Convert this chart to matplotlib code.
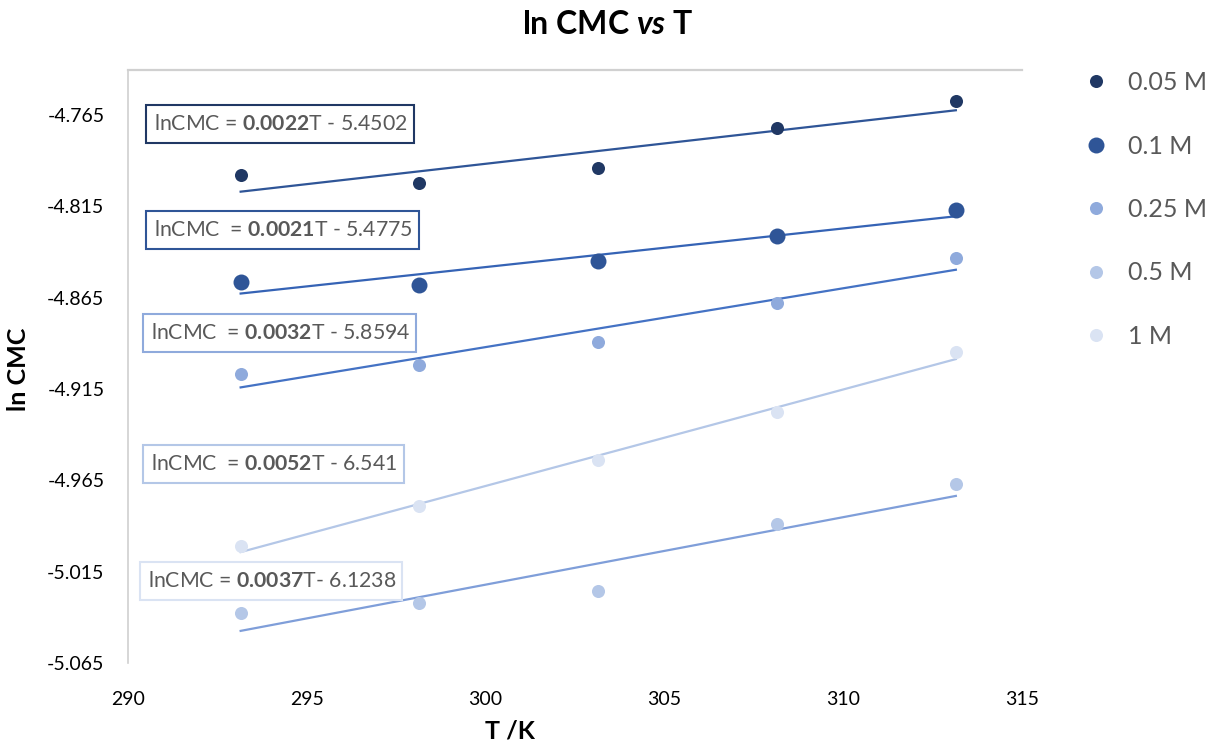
import numpy as np
import matplotlib
matplotlib.use("Agg")
import matplotlib.pyplot as plt
from matplotlib.patches import Rectangle

plt.rcParams['font.family'] = ['Lato', 'DejaVu Sans']
plt.rcParams['mathtext.fontset'] = 'custom'
plt.rcParams['mathtext.rm'] = 'Lato'
plt.rcParams['mathtext.bf'] = 'Lato:bold'
plt.rcParams['mathtext.it'] = 'Lato:bold:italic'

# ---- data ----
temperature = [293.15, 298.15, 303.15, 308.15, 313.15]
labels = ["0.05 M", "0.1 M", "0.25 M", "0.5 M", "1 M"]
ln_cmc_005 = [-4.7979, -4.8023, -4.7940, -4.7721, -4.7573]
ln_cmc_01 = [-4.8565, -4.8582, -4.8450, -4.8313, -4.8171]
ln_cmc_025 = [-4.9069, -4.9020, -4.8894, -4.8680, -4.8434]
ln_cmc_05 = [-5.0379, -5.0324, -5.0258, -4.9891, -4.9672]
ln_cmc_1 = [-5.0012, -4.9793, -4.9541, -4.9278, -4.8949]
equations = [
    ("lnCMC = ", "0.0022", "T - 5.4502"),
    ("lnCMC  = ", "0.0021", "T - 5.4775"),
    ("lnCMC  = ", "0.0032", "T - 5.8594"),
    ("lnCMC  = ", "0.0052", "T - 6.541"),
    ("lnCMC = ", "0.0037", "T- 6.1238"),
]
y_ticks = [-4.765, -4.815, -4.865, -4.915, -4.965, -5.015, -5.065]
x_ticks = [290, 295, 300, 305, 310, 315]

series = [ln_cmc_005, ln_cmc_01, ln_cmc_025, ln_cmc_05, ln_cmc_1]
marker_colors = ["#203864", "#2F5597", "#8FAADC", "#B4C7E7", "#DAE3F3"]
line_colors = ["#2F5597", "#3563B5", "#4472C4", "#7F9ED9", "#B4C7E7"]
marker_sizes = [9.4, 11.5, 9.4, 9.4, 9.4]

W, H = 1218, 745
fig = plt.figure(figsize=(W / 100, H / 100), dpi=100)
ax = fig.add_axes([128 / W, 1 - 663 / H, (1022 - 128) / W, (663 - 70) / H])

T = np.array(temperature)
handles = []
for vals, mc, lc, ms, lab in zip(series, marker_colors, line_colors, marker_sizes, labels):
    v = np.array(vals)
    k, b = np.polyfit(T, v, 1)
    ax.plot([T[0], T[-1]], [k * T[0] + b, k * T[-1] + b], color=lc, lw=1.6, zorder=2)
    h, = ax.plot(T, v, 'o', color=mc, ms=ms, mec='none', zorder=3, label=lab)
    handles.append(h)

ax.set_xlim(290, 315)
ax.set_ylim(-5.065, -4.7404)
ax.set_xticks(x_ticks)
ax.set_yticks(y_ticks)
ax.set_yticklabels([f"{t:.3f}" for t in y_ticks])
ax.tick_params(axis='both', length=0, labelsize=14, colors='black')
ax.tick_params(axis='y', pad=17)
ax.tick_params(axis='x', pad=20)
for s in ['right', 'bottom']:
    ax.spines[s].set_visible(False)
ax.spines['left'].set_color('#D0D0D0')
ax.spines['top'].set_color('#D0D0D0')
ax.spines['left'].set_linewidth(1.2)
ax.spines['top'].set_linewidth(1.6)

# equation boxes (pixel layout)
boxes = [(146, 414, 105, 143), (146, 419, 211, 249), (143, 416, 314, 352),
         (143, 404, 445, 483), (140, 402, 562, 600)]
box_edges = marker_colors
for (x0, x1, y0, y1), (a, bnum, c), ec in zip(boxes, equations, box_edges):
    fig.add_artist(Rectangle((x0 / W, 1 - y1 / H), (x1 - x0) / W, (y1 - y0) / H,
                             transform=fig.transFigure, fill=True, fc='white',
                             ec=ec, lw=1.5, zorder=5))
    txt = a + r"$\mathbf{" + bnum + "}$" + c
    fig.text((x0 + 8) / W, 1 - (y0 + y1) / 2 / H, txt, fontsize=15.3,
             color='#595959', ha='left', va='center', zorder=6)

fig.text(608 / W, 1 - 24 / H, r"ln CMC $\mathit{vs}$ T", fontsize=23,
         fontweight='bold', ha='center', va='center')
fig.text(18 / W, 1 - 369 / H, "ln CMC", fontsize=18, fontweight='bold',
         rotation=90, ha='center', va='center')
fig.text(510 / W, 1 - 731 / H, "T /K", fontsize=18, fontweight='bold',
         ha='center', va='center')

leg = fig.legend(handles=handles, loc='upper left', bbox_to_anchor=(1083 / W, 1 - 71 / H),
                 frameon=False, fontsize=18, labelcolor='#595959',
                 labelspacing=1.62, handletextpad=0.78, handlelength=1.0,
                 borderaxespad=0, borderpad=0)

fig.savefig("out.png", dpi=100)
